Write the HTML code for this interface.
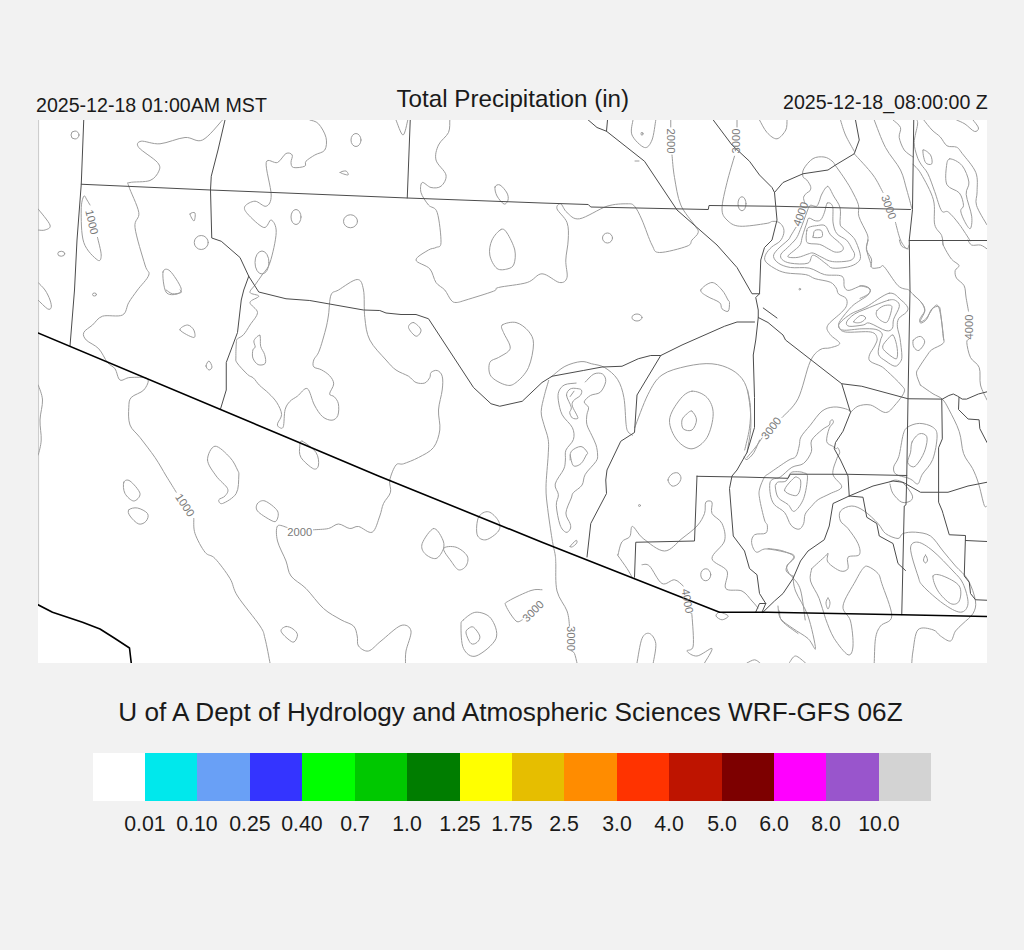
<!DOCTYPE html>
<html><head><meta charset="utf-8">
<style>
html,body{margin:0;padding:0;background:#f2f2f2;width:1024px;height:950px;overflow:hidden;position:relative;font-family:"Liberation Sans",sans-serif;color:#1a1a1a}
.t{position:absolute;white-space:nowrap;line-height:1}
#map{position:absolute;left:38px;top:120px;width:949px;height:543px;background:#fff}
.cb{position:absolute;top:753px;height:48px}
.lb{position:absolute;top:814.2px;font-size:21.3px;width:80px;text-align:center;line-height:1;white-space:nowrap}
svg{position:absolute;left:0;top:0}
</style></head><body>
<div class="t" id="lt" style="left:36px;top:95.5px;font-size:19.6px">2025-12-18 01:00AM MST</div>
<div class="t" id="tt" style="left:396.5px;top:86.7px;font-size:24.2px">Total Precipitation (in)</div>
<div class="t" id="rt" style="left:783px;top:92.5px;font-size:19.6px">2025-12-18_08:00:00 Z</div>
<div id="map"></div>
<div class="t" id="bt" style="left:118.2px;top:699.3px;font-size:26.2px">U of A Dept of Hydrology and Atmospheric Sciences WRF-GFS 06Z</div>
<div class="cb" style="left:93px;width:52px;background:#ffffff"></div>
<div class="cb" style="left:145px;width:52px;background:#00e8ec"></div>
<div class="cb" style="left:197px;width:53px;background:#69a0f6"></div>
<div class="cb" style="left:250px;width:52px;background:#3434ff"></div>
<div class="cb" style="left:302px;width:53px;background:#00ff00"></div>
<div class="cb" style="left:355px;width:52px;background:#00c800"></div>
<div class="cb" style="left:407px;width:53px;background:#007d00"></div>
<div class="cb" style="left:460px;width:52px;background:#ffff00"></div>
<div class="cb" style="left:512px;width:52px;background:#e6be00"></div>
<div class="cb" style="left:564px;width:53px;background:#ff8c00"></div>
<div class="cb" style="left:617px;width:52px;background:#ff3300"></div>
<div class="cb" style="left:669px;width:53px;background:#be1400"></div>
<div class="cb" style="left:722px;width:52px;background:#7d0000"></div>
<div class="cb" style="left:774px;width:52px;background:#ff00ff"></div>
<div class="cb" style="left:826px;width:53px;background:#9955cc"></div>
<div class="cb" style="left:879px;width:52px;background:#d3d3d3"></div>
<div class="lb" style="left:105px">0.01</div>
<div class="lb" style="left:157px">0.10</div>
<div class="lb" style="left:210px">0.25</div>
<div class="lb" style="left:262px">0.40</div>
<div class="lb" style="left:315px">0.7</div>
<div class="lb" style="left:367px">1.0</div>
<div class="lb" style="left:420px">1.25</div>
<div class="lb" style="left:472px">1.75</div>
<div class="lb" style="left:524px">2.5</div>
<div class="lb" style="left:577px">3.0</div>
<div class="lb" style="left:629px">4.0</div>
<div class="lb" style="left:682px">5.0</div>
<div class="lb" style="left:734px">6.0</div>
<div class="lb" style="left:786px">8.0</div>
<div class="lb" style="left:839px">10.0</div>
<!--MAPSVG-->
<svg width="1024" height="950" viewBox="0 0 1024 950">
<defs><clipPath id="mc"><rect x="38" y="120" width="949" height="543"/></clipPath></defs>
<g clip-path="url(#mc)" fill="none" stroke-linejoin="round" stroke-linecap="round">
<line x1="38.5" y1="120" x2="38.5" y2="605" stroke="#cdcdcd" stroke-width="1.2"/>
<g stroke="#9c9c9c" stroke-width="1">
<path d="M222.5,120C219.2,123.3 208.8,137.1 202.5,140C196.2,142.9 192.1,136.9 185,137.5C177.9,138.1 167.3,143.1 160,143.8C152.7,144.4 144.8,140.6 141.2,141.2C137.7,141.9 136,144 138.8,147.5C141.5,151 154.2,158.5 157.5,162.5C160.8,166.5 160,168.2 158.8,171.2C157.5,174.2 154.8,178.6 150,180.5C145.2,182.4 133.5,181.5 130,182.5C126.5,183.5 127.3,181.2 128.8,186.2C130.2,191.2 137.7,205.6 138.8,212.5C139.8,219.4 134,218.8 135,227.5C136,236.2 142.7,257.1 145,265C147.3,272.9 150,270.8 148.8,275C147.5,279.2 140.8,285.4 137.5,290C134.2,294.6 131.2,298.3 128.8,302.5C126.2,306.7 126.9,312.7 122.5,315C118.1,317.3 107.5,314.6 102.5,316.2C97.5,317.9 95.6,322.3 92.5,325C89.4,327.7 84.8,330 83.8,332.5C82.7,335 83.8,337.3 86.2,340C88.8,342.7 95.2,345 98.8,348.8C102.3,352.5 104.8,359.2 107.5,362.5C110.2,365.8 112.9,365.8 115,368.8C117.1,371.7 117.5,378.5 120,380C122.5,381.5 125.4,377.7 130,377.5C134.6,377.3 145.2,376.7 147.5,378.8C149.8,380.8 146.5,386.9 143.8,390C141,393.1 133.8,394.6 131.2,397.5C128.8,400.4 129,402.9 128.8,407.5C128.5,412.1 128.1,420 130,425C131.9,430 135.8,432.1 140,437.5C144.2,442.9 150.6,451.1 155,457.5C159.4,463.9 162.7,470.2 166.2,476C169.8,481.8 174.6,489.5 176.2,492.2"/>
<path d="M193.8,518.5C194,521 193.1,527.9 195,533.5C196.9,539.1 201.7,548.1 205,552.2C208.3,556.4 210.8,554.1 215,558.5C219.2,562.9 226.2,572.2 230,578.5C233.8,584.8 232.5,588.1 237.5,596C242.5,603.9 255.4,618.9 260,626C264.6,633.1 263.3,632.3 265,638.5C266.7,644.7 269.2,658.9 270,663"/>
<path d="M90,205C89.5,204.2 88,201.5 87,200C86,198.5 84.7,194.6 83.8,196.2C82.8,197.9 81.2,202.3 81.2,210C81.2,217.7 81,234.2 83.8,242.5C86.5,250.8 94.6,257.9 97.5,260C100.4,262.1 101.2,258.8 101.2,255C101.2,251.2 98.1,240.4 97.5,237.5"/>
<ellipse cx="75" cy="135" rx="4" ry="4"/>
<path d="M38,208.8C40,211.5 48.8,221.5 50,225C51.2,228.5 47,229.2 45,230C43,230.8 39.2,230 38,230"/>
<ellipse cx="61.25" cy="253.75" rx="3.5" ry="2.5"/>
<path d="M38,282.5C39.2,283.8 43,287.1 45,290C47,292.9 49,297.1 50,300C51,302.9 51.7,306 51.2,307.5C50.8,309 49.7,310 47.5,308.8C45.3,307.5 39.6,301.5 38,300"/>
<path d="M190,214C190.2,212.7 194.3,211.8 195,213C195.7,214.2 194.8,220.8 194,221C193.2,221.2 189.8,215.3 190,214Z"/>
<ellipse cx="201.25" cy="242.5" rx="7" ry="7"/>
<path d="M163,272C163.7,268.5 167,268.3 170,271C173,273.7 179.8,284.2 181,288C182.2,291.8 179.5,293.3 177,294C174.5,294.7 168.3,295.7 166,292C163.7,288.3 162.3,275.5 163,272Z"/>
<ellipse cx="94.5" cy="294.5" rx="2" ry="1.5"/>
<path d="M309.8,120C311.2,120.6 315.8,120.8 318.5,123.8C321.2,126.7 325,133.1 326,137.5C327,141.9 326.6,147.1 324.8,150C322.9,152.9 317.9,153.1 314.8,155C311.6,156.9 307.7,159.4 306,161.2C304.3,163.1 306.8,165.2 304.8,166.2C302.7,167.3 295.8,168.1 293.5,167.5C291.2,166.9 291.2,164.6 291,162.5C290.8,160.4 293.1,156.5 292.2,155C291.4,153.5 288.5,152.2 286,153.5C283.5,154.8 280.8,161 277.5,162.5C274.2,164 267.3,157.1 266.2,162.5C265.2,167.9 271.2,187.7 271.2,195C271.2,202.3 269,205.2 266.2,206.2C263.5,207.3 258.5,201.2 255,201.2C251.5,201.2 246.2,204.2 245,206.2C243.8,208.3 244.4,210.2 247.5,213.8C250.6,217.3 259.8,226.5 263.8,227.5C267.7,228.5 269.2,219.2 271.2,220C273.3,220.8 276.5,225.4 276.2,232.5C276,239.6 272.4,255.4 270,262.5C267.6,269.6 264.5,271.2 262,275C259.5,278.8 257,282.1 255,285C253,287.9 249.4,290.6 250,292.5C250.6,294.4 258.8,294.6 258.8,296.2C258.8,297.9 250.2,299.8 250,302.5C249.8,305.2 257.5,308.8 257.5,312.5C257.5,316.2 252.3,321.3 250,325C247.7,328.7 245.6,332.4 243.5,334.7C241.4,337 238.8,337.6 237.6,338.8C236.4,340 236.7,338.7 236.4,341.7C236.1,344.7 235.8,353.5 235.9,357C236,360.5 235.1,359.9 237,362.8C238.9,365.7 244.9,372 247.6,374.5C250.3,377 251.4,376.2 253.4,378C255.4,379.8 256.8,382.6 259.3,385.1C261.9,387.7 265.8,390.4 268.7,393.3C271.6,396.2 274.8,399.2 276.9,402.7C279,406.2 281.5,410.9 281.6,414.4C281.7,417.9 277.9,421.6 277.5,423.8C277.1,425.9 278.2,426.8 279.2,427.3C280.2,427.8 282.3,429.6 283.3,426.7C284.3,423.8 284,413.9 285.1,409.7C286.2,405.5 287.8,403.8 289.8,401.5C291.9,399.2 294.5,398.3 297.4,396.2C300.3,394.1 304.5,387.1 307.3,388.6C310.1,390.1 311.8,400.3 314.4,405C316.9,409.7 319.7,414.2 322.6,416.7C325.5,419.2 329.5,420.4 332,420.2C334.5,420 336.7,418.2 337.8,415.5C338.9,412.8 339,406.9 338.4,403.8C337.8,400.7 335.8,398.5 334.3,396.8C332.8,395.1 329.7,396 329.6,393.9C329.5,391.8 333.7,386.9 333.7,383.9C333.7,380.9 331.7,378 329.6,375.7C327.6,373.4 324,371.3 321.4,369.8C318.8,368.3 315.1,368.5 313.8,366.9C312.5,365.2 312.9,362.5 313.8,359.9C314.7,357.3 317.2,356.1 319.1,351.1C321.1,346.1 323.9,336 325.5,330C327.1,324 327.6,320.8 328.5,315C329.4,309.2 329.3,299.2 331,295C332.7,290.8 334.1,292.6 338.5,290C342.9,287.4 353.1,279.5 357.2,279.5C361.4,279.5 362.2,283.7 363.5,290C364.8,296.3 363.7,309.2 364.8,317.5C365.8,325.8 366.2,332.9 369.8,340C373.3,347.1 381.6,355 386,360C390.4,365 392.2,367.3 396,370C399.8,372.7 405.2,374.2 408.5,376.2C411.8,378.3 413.3,381.4 416,382.5C418.7,383.6 422.5,383.8 424.8,383C427,382.2 428.7,379.2 429.8,377.5C430.8,375.8 429.8,373.7 431,372.5C432.2,371.3 435.4,369.9 437.2,370.5C439.1,371.1 441.4,373 442.2,376.2C443.1,379.5 442.9,384.4 442.2,390C441.6,395.6 438.9,403.3 438.5,410C438.1,416.7 440.6,423.8 439.8,430C438.9,436.2 437,442.9 433.5,447.5C430,452.1 423.5,454.8 418.5,457.5C413.5,460.2 407.2,462.5 403.5,463.8C399.8,465 398.3,462.3 396,465C393.7,467.7 390.7,475.5 389.8,480C388.8,484.5 391.5,488.3 390.5,492.2C389.5,496.2 385.3,499.5 383.5,503.5C381.7,507.5 381.6,511.2 379.8,516C377.9,520.8 375.8,530.5 372.2,532.2C368.7,534 362.2,527.1 358.5,526.5C354.8,525.9 353.1,528.9 349.8,528.5C346.4,528.1 342,524 338.5,524C335,524 332.7,527.5 328.5,528.5C324.3,529.5 316,529.5 313.5,529.8"/>
<path d="M259.9,335.3C261,336.3 259.9,343.2 260.7,346.4C261.5,349.6 263.9,351.8 264.6,354.6C265.4,357.4 266.3,361.7 265.2,363.4C264.1,365.1 260.2,365.5 258.1,364.6C256.1,363.7 253.8,360.6 252.9,358.1C252,355.7 252.5,351.8 252.9,349.9C253.3,348 255,348.6 255.2,347C255.4,345.4 253.2,342.4 254,340.5C254.8,338.6 258.8,334.3 259.9,335.3Z"/>
<path d="M180,330C179,327.9 185.2,325 187.5,325C189.8,325 192.7,327.9 193.8,330C194.8,332.1 196,337.5 193.8,337.5C191.5,337.5 181,332.1 180,330Z"/>
<path d="M206,366C206,364.5 208,360.8 209,361C210,361.2 212,365.5 212,367C212,368.5 210,370.2 209,370C208,369.8 206,367.5 206,366Z"/>
<path d="M38.2,385C39,387.5 42.2,394.2 42.5,400C42.8,405.8 40.2,413.3 40,420C39.8,426.7 41.5,434.2 41.2,440C41,445.8 38.8,452.5 38.2,455"/>
<path d="M207.5,460C207.3,455 211.2,446.7 215,446.2C218.8,445.8 226.2,453.5 230,457.5C233.8,461.5 236,466.9 237.5,470C239,473.1 239,472.1 238.8,476C238.5,479.9 239,488.9 236.2,493.5C233.5,498.1 225.4,502.5 222.5,503.5C219.6,504.5 218.3,501 218.8,499.8C219.2,498.5 223.5,497.9 225,496C226.5,494.1 229,491.8 227.5,488.5C226,485.2 219.6,480.8 216.2,476C212.9,471.2 207.7,465 207.5,460Z"/>
<path d="M166.2,290C167.3,290.6 170,293.3 172.5,293.8C175,294.2 180,293.1 181.2,292.5C182.5,291.9 180.2,290.4 180,290"/>
<ellipse cx="262" cy="262.5" rx="7" ry="11.5"/>
<ellipse cx="356" cy="140" rx="5" ry="6.5"/>
<path d="M340,172.5C339.7,171.8 344.7,170.6 346,171C347.3,171.4 349,174.8 348,175C347,175.2 340.3,173.2 340,172.5Z"/>
<path d="M396,120C397.2,122.5 401,135 403,135C405,135 407,122.5 407.8,120"/>
<path d="M449.8,120C449.5,122.1 450.4,128.3 448.5,132.5C446.6,136.7 440.6,140.4 438.5,145C436.4,149.6 434.8,155 436,160C437.2,165 445.2,170.6 446,175C446.8,179.4 443.5,184.2 441,186.2C438.5,188.3 434.1,188.1 431,187.5C427.9,186.9 423.9,181.7 422.2,182.5C420.6,183.3 420,188.8 421,192.5C422,196.2 425.8,201.7 428.5,205C431.2,208.3 435.2,206.2 437.2,212.5C439.3,218.8 441.2,236.7 441,242.5C440.8,248.3 438.1,246.2 436,247.5C433.9,248.8 431.8,247.9 428.5,250C425.2,252.1 415.8,256.9 416,260C416.2,263.1 426.4,265 429.8,268.8C433.1,272.5 433.5,279 436,282.5C438.5,286 442.2,287.1 444.8,290C447.2,292.9 449.1,297.9 451,300C452.9,302.1 453.5,302.5 456,302.5C458.5,302.5 459.8,301.9 466,300C472.2,298.1 488.1,293.3 493.5,291.2C498.9,289.2 492.9,289 498.5,287.5C504.1,286 520,284.8 527.2,282.5C534.5,280.2 536.6,273.8 542,273.8C547.4,273.8 555.3,281.9 559.5,282.5C563.7,283.1 566,281.2 567,277.5C568,273.8 565.5,266.2 565.8,260C566,253.8 568,246.2 568.2,240C568.5,233.8 568.9,227.7 567,222.5C565.1,217.3 558,211.9 557,208.8C556,205.6 559.1,203.1 560.8,203.8C562.4,204.4 563.9,210 567,212.5C570.1,215 572.8,219.8 579.5,218.8C586.2,217.7 599.1,208.8 607,206.2C614.9,203.8 622.4,203.8 627,203.8C631.6,203.8 632,203.5 634.5,206.2C637,209 639.1,213.5 642,220C644.9,226.5 649.1,239.6 652,245C654.9,250.4 653.7,252.3 659.5,252.5C665.3,252.7 681.6,248.3 687,246.2C692.4,244.2 690.1,242.3 692,240C693.9,237.7 697.8,235 698.2,232.5C698.7,230 697.4,229.6 694.5,225C691.6,220.4 684.1,212.9 680.8,205C677.4,197.1 676,185.8 674.5,177.5C673,169.2 672.4,158.8 672,155"/>
<polyline points="670.75,120 670.75,127"/>
<ellipse cx="296" cy="217" rx="5" ry="7.5"/>
<ellipse cx="350.5" cy="221.25" rx="7" ry="6.5"/>
<path d="M495,187C495.5,185.2 498,184 500,185C502,186 505.7,190.5 507,193C508.3,195.5 508.5,198.2 508,200C507.5,201.8 505.8,204.7 504,204C502.2,203.3 498.5,198.8 497,196C495.5,193.2 494.5,188.8 495,187Z"/>
<path d="M501,229.5C503.5,228.3 504.7,229.6 507,233C509.3,236.4 513.6,244.8 514.8,250C515.9,255.2 515.1,260.9 514,264C512.9,267.1 510.8,268 508,268.8C505.2,269.5 500,270.8 497,268.5C494,266.2 490.6,259.8 489.8,255C488.9,250.2 490.1,244.2 492,240C493.9,235.8 498.5,230.7 501,229.5Z"/>
<path d="M302.2,441.2C305,442.3 313.3,448.5 316,452.5C318.7,456.5 318.9,462.3 318.5,465C318.1,467.7 316.4,470 313.5,468.8C310.6,467.5 303.3,461.2 301,457.5C298.7,453.8 299.5,449 299.8,446.2C300,443.5 299.5,440.2 302.2,441.2Z"/>
<path d="M502.2,325C504.3,323.3 511.6,321.5 516,322.5C520.4,323.5 525.6,327.7 528.5,331.2C531.4,334.8 533.5,337.7 533.5,343.8C533.5,349.8 531.4,361 528.5,367.5C525.6,374 519.8,379.6 516,382.5C512.2,385.4 510.2,386 506,385C501.8,384 493.7,380 491,376.2C488.3,372.5 488.5,365.6 489.8,362.5C491,359.4 495.4,359.4 498.5,357.5C501.6,355.6 506.6,353.3 508.5,351.2C510.4,349.2 510.6,348.1 509.8,345C508.9,341.9 504.8,335.8 503.5,332.5C502.2,329.2 500.2,326.7 502.2,325Z"/>
<path d="M413.5,322.5C415.6,322.9 420.6,327.7 421,330C421.4,332.3 418.1,336.7 416,336.2C413.9,335.8 408.9,329.8 408.5,327.5C408.1,325.2 411.4,322.1 413.5,322.5Z"/>
<path d="M287,527.5C285.4,527.2 279.1,523.8 277.5,526C275.9,528.2 276.1,535.2 277.5,541C278.9,546.8 283.8,555.2 286,561C288.2,566.8 287.7,571.4 291,576C294.3,580.6 300.6,583.1 306,588.5C311.4,593.9 317.7,603.3 323.5,608.5C329.3,613.7 336,616.8 341,619.8C346,622.7 350.8,623.3 353.5,626C356.2,628.7 356.4,632.7 357.2,636C358.1,639.3 356.6,643.5 358.5,646C360.4,648.5 364.8,651.8 368.5,651C372.2,650.2 375.6,645.2 381,641C386.4,636.8 396,627.2 401,625.5C406,623.8 410.2,626.8 411,631C411.8,635.2 406.9,645.7 406,651C405.1,656.3 405.6,661 405.5,663"/>
<path d="M734.5,156.2C733.2,160.6 729.1,173.8 727,182.5C724.9,191.2 722,202.5 722,208.8C722,215 724.1,217.1 727,220C729.9,222.9 733,225.7 739.5,226.2C746,226.8 760.5,224.3 766,223.5C771.5,222.7 770.2,221.6 772.4,221.4C774.5,221.2 777.1,221.4 778.9,222.4C780.7,223.4 782.4,225.4 783.2,227.3C784,229.2 784.2,231.4 783.7,233.7C783.2,236 782,239 780,241.2C778,243.4 774.1,244.8 771.7,247C769.4,249.2 767,251.8 765.9,254.1C764.8,256.4 763.9,258.8 765.3,261.1C766.7,263.4 770.7,266.2 774.1,268.1C777.5,270.1 780.5,271.7 785.8,272.8C791.1,273.9 800.8,273.6 805.7,274.6C810.6,275.6 811,277.4 815.1,278.7C819.2,280 826.8,280.6 830.3,282.2C833.8,283.8 834.8,286.1 836.2,288C837.6,289.9 836.9,292.2 838.5,293.9C840.1,295.6 844.6,296.4 846,298.3C847.4,300.2 847.4,303 846.7,305.3C846,307.6 844.8,308.9 841.6,312.3C838.4,315.7 829.5,321.9 827.6,325.6C825.7,329.3 828.2,331.5 830.2,334.5C832.2,337.5 839.7,341.2 839.7,343.4C839.7,345.6 833.5,346.8 830.2,347.8C826.9,348.9 823.4,347.3 820,349.7C816.6,352.1 813.7,353.8 810,362C806.3,370.2 802.7,389.5 798,398.8C793.3,408 784.7,414.4 782,417.5"/>
<polyline points="737,120 737,127"/>
<ellipse cx="742" cy="203.75" rx="4" ry="7"/>
<path d="M633,120C632.8,122.5 630.1,130.4 632,135C633.9,139.6 641.2,146.7 644.5,147.5C647.8,148.3 650.1,144.6 652,140C653.9,135.4 655.1,123.3 655.8,120"/>
<ellipse cx="642" cy="133.75" rx="1" ry="1.5"/>
<ellipse cx="607.5" cy="238" rx="5" ry="5"/>
<path d="M759.5,120C760.8,122.1 764.1,129.4 767,132.5C769.9,135.6 773.9,139.2 777,138.8C780.1,138.3 784.1,133.1 785.8,130C787.4,126.9 786.8,121.7 787,120"/>
<path d="M700.8,290C699.9,292.3 703.9,294.2 707,296.2C710.1,298.3 717,300.4 719.5,302.5C722,304.6 720.5,307.3 722,308.8C723.5,310.2 727,312.3 728.2,311.2C729.5,310.2 729.5,304.4 729.5,302.5C729.5,300.6 729.2,302.1 728,300C726.8,297.9 724.7,292.9 722,290C719.3,287.1 715.5,282.5 712,282.5C708.5,282.5 701.6,287.7 700.8,290Z"/>
<ellipse cx="637" cy="317.5" rx="5" ry="3.5"/>
<path d="M840.5,120C841.3,122.5 843.2,129.8 845.5,135C847.8,140.2 852.8,148.5 854.2,151.2"/>
<path d="M854.2,153.8C857.4,157.3 868.2,168.5 873,175C877.8,181.5 881.3,189.6 883,192.5"/>
<path d="M895.5,222.5C896.3,225.4 898.6,235.6 900.5,240C902.4,244.4 905.3,247.9 906.8,248.8C908.2,249.6 908.6,245.6 909,245"/>
<path d="M874.2,120C876.1,124.6 881.1,139.2 885.5,147.5C889.9,155.8 897,162.9 900.5,170C904,177.1 904.8,183.5 906.8,190C908.7,196.5 911.1,205.8 912,209"/>
<path d="M893,120C894.2,121.2 899.5,124.6 900.5,127.5C901.5,130.4 898.6,133.8 899.2,137.5C899.9,141.2 902,146.8 904.2,150C906.5,153.2 911.5,155.8 913,157"/>
<path d="M917,120C917.1,120.8 918,121.3 917.5,125C917,128.7 914.3,137.2 914.2,142.4C914.1,147.6 915.9,152.4 917,156C918.1,159.6 919.2,161.3 921,164.2C922.8,167.2 925.6,169.2 927.9,173.8C930.2,178.4 932.4,185.4 934.7,191.6C937,197.8 939.3,207.4 941.6,210.8C943.9,214.2 945.4,209.8 948.4,212.1C951.4,214.4 955.8,219.7 959.4,224.5C963,229.3 968.5,238.2 970.3,240.9"/>
<path d="M912.8,164.2C914.2,165.8 917.6,167.9 921,173.8C924.4,179.7 931.1,191.4 933.4,199.8C935.7,208.2 933.3,218.6 934.7,224.5C936.1,230.4 940.2,232 941.6,235.4C943,238.8 942.8,243.4 943,245"/>
<path d="M923.8,120C925.2,121.7 929.3,127.2 932,130C934.7,132.8 937.7,134.3 940.2,136.9C942.7,139.5 944.3,144.1 947,145.8C949.7,147.5 954.1,145.9 956.6,147.2C959.1,148.4 958.9,149.1 962.1,153.3C965.3,157.5 973.3,166.1 975.8,172.5C978.3,178.9 977,186.1 977.1,191.6C977.2,197.1 974.9,199.8 976.5,205.3C978.1,210.8 985,221.3 986.7,224.5"/>
<path d="M923,150C923.8,148.8 929,152.7 930.5,155C932,157.3 932.6,162.5 931.8,163.8C930.9,165 927,164.8 925.5,162.5C924,160.2 922.2,151.2 923,150Z"/>
<path d="M949.8,158.8C952.4,158.6 958.9,161.7 962.1,165.6C965.3,169.5 968.2,177.2 968.9,182C969.6,186.8 965.7,188.7 966.2,194.4C966.7,200.1 971,210.5 971.7,216.2C972.4,221.9 971.4,227.7 970.3,228.6C969.1,229.5 966.4,224.7 964.8,221.7C963.2,218.7 960.9,213.5 960.7,210.8C960.5,208.1 963.7,208.3 963.5,205.3C963.3,202.3 962.1,196.4 959.4,193C956.6,189.6 949.2,189.1 947,184.8C944.8,180.5 945.9,171.3 946.4,167C946.9,162.7 947.2,159 949.8,158.8Z"/>
<path d="M956.6,120C958,120.7 962,122.1 965,124C968,125.9 972.1,130.7 974.4,131.4C976.6,132.1 978.7,129.9 978.5,128C978.3,126.1 973.9,121.3 973,120"/>
<path d="M813.3,235.9C813.5,234.7 813.5,231.4 814.9,230.5C816.2,229.6 820.2,229.4 821.3,230.5C822.5,231.6 823.2,235.8 821.9,236.9C820.5,238.1 814.7,237.6 813.3,237.5C811.8,237.3 813,237 813.3,235.9Z"/>
<path d="M806.8,230.5C807.3,228.3 807.4,228.1 809,227.3C810.6,226.5 813.8,225.9 816.5,225.7C819.2,225.4 822.8,224.1 825.1,225.7C827.4,227.2 828.1,232 830.5,234.8C832.8,237.6 836.9,240.2 839,242.3C841.2,244.5 843,246.2 843.3,247.7C843.7,249.2 842.6,250.7 841.2,251.4C839.8,252.2 836.9,252.4 834.8,252C832.6,251.5 830.8,250 828.3,248.8C825.8,247.5 822.9,245.3 819.7,244.4C816.5,243.6 811.2,244.1 809,243.4C806.7,242.7 806.6,242.3 806.3,240.2C805.9,238 806.4,232.6 806.8,230.5Z"/>
<path d="M827.2,203.1C828.6,202.1 831.6,203 832.6,206.3C833.6,209.6 832.4,218.4 833.1,223C833.9,227.5 834.7,230.8 836.9,233.7C839.1,236.6 844.1,237.7 846.6,240.2C849.1,242.7 850.6,246.2 851.9,248.8C853.3,251.3 855,253.2 854.6,255.2C854.3,257.2 853.5,259.5 849.8,260.6C846.1,261.6 837.3,262.2 832.6,261.6C827.9,261.1 825.1,258.8 821.9,257.3C818.6,255.9 815.6,253.6 813.3,253.1C810.9,252.5 810.4,253.4 807.9,254.1C805.4,254.8 801.4,256.8 798.2,257.3C795.1,257.9 790.7,257.7 789.1,257.3C787.5,257 787.6,256.5 788.6,255.2C789.5,253.9 793,251.6 795,249.8C797,248 799.1,246.8 800.4,244.4C801.6,242.1 801.4,239.4 802.5,235.9C803.6,232.3 805.7,225.9 806.8,223C807.9,220 807.5,218.5 809,218.1C810.4,217.8 813.4,220.6 815.4,220.8C817.4,221.1 819.3,221.2 820.8,219.8C822.3,218.3 823.5,215 824.5,212.2C825.6,209.5 825.9,204.1 827.2,203.1Z"/>
<path d="M827.8,186.4C829.7,186.8 831.6,192.5 833.7,196.1C835.7,199.7 839,203.3 840.1,207.9C841.2,212.6 839.6,220.6 840.1,224C840.7,227.4 841.4,226.4 843.3,228.3C845.3,230.3 849.8,233.5 851.9,235.9C854.1,238.2 854.8,238.9 856.2,242.3C857.7,245.7 860.4,252.9 860.5,256.3C860.7,259.7 859.5,260.9 857.3,262.7C855.2,264.5 851.8,266.1 847.6,267C843.5,267.9 836.2,268.6 832.6,268.1C829,267.6 829.4,265.9 826.2,263.8C822.9,261.6 816.3,255.3 813.3,255.2C810.2,255.1 811.6,261.9 807.9,263.2C804.1,264.6 795,263.9 790.7,263.2C786.4,262.6 783.7,261 782.1,259.5C780.5,258 780.1,256.1 781,254.1C781.9,252.2 785,250.3 787.5,247.7C790,245.1 793.9,241.6 796.1,238.6C798.2,235.5 798.6,233.8 800.4,229.4C802.2,225 805.4,216 806.8,212.2C808.3,208.5 808.3,208 809,206.9C809.7,205.7 809.9,205.3 811.1,205.2C812.4,205.2 815.1,206.9 816.5,206.3C817.8,205.7 818.3,203.5 819.2,201.5C820.1,199.4 820.4,196.5 821.9,194C823.3,191.5 825.8,186.1 827.8,186.4Z"/>
<path d="M804.7,202.6C804.5,201.7 803.2,198.8 803.6,197.2C804,195.6 805.7,194 806.8,192.9C807.9,191.8 809.4,191.8 810,190.7C810.6,189.6 811.1,188.2 810.6,186.4C810.1,184.6 808.1,181.6 806.8,180C805.5,178.4 803.5,178.5 803,176.6C802.5,174.7 802.1,171.8 803.8,168.8C805.4,165.8 809.6,160.6 813,158.6C816.4,156.6 820.8,156.6 824,157C827.2,157.4 829.9,159.3 832,161C834.1,162.7 834.4,164 836.6,167.2C838.9,170.4 843,176.1 845.5,180C848,183.9 849.8,186.6 851.9,190.7C854,194.8 857.2,200.4 858.4,204.7C859.6,209 857.5,211.7 858.9,216.5C860.3,221.3 865.5,229.8 867,233.7C868.5,237.6 867.9,237.4 867.8,240C867.7,242.6 866.1,245.5 866.6,249.4C867.1,253.3 869.7,260.3 870.7,263.4C871.7,266.5 871,267.4 872.5,268.1C874,268.8 878.1,267.7 880,267.5C881.9,267.3 881.1,263.7 884.1,266.7C887.1,269.7 894.1,281.9 898.1,285.7C902.1,289.5 906.5,288.9 908.2,289.5"/>
<path d="M796,227.3C795.1,228.7 792,233.8 790.7,235.9C789.4,238 790.3,237.8 788.1,240C785.9,242.2 780,246.7 777.6,249.4C775.2,252.1 773.3,254.1 773.5,256.4C773.7,258.7 775.9,261.5 778.8,263.4C781.6,265.2 785.4,266.7 790.5,267.5C795.6,268.3 803.5,266.9 809.2,268.1C814.9,269.3 819,273.2 824.5,274.6C830,276 838.7,274.2 842,276.3C845.3,278.4 843.2,284.5 844.4,286.9C845.6,289.2 846.2,290.6 849.1,290.4C852,290.2 858.5,285.9 862,285.7C865.5,285.5 869.2,287.6 870.2,289.2C871.2,290.8 869.4,293.3 867.8,295.1C866.2,296.9 863.5,298.1 860.8,300C858.1,301.9 855.1,303.2 851.7,306.6C848.3,310 842.4,317.1 840.3,320.5C838.2,323.9 838.1,325 839,326.9C839.9,328.8 840.1,331.1 845.4,332C850.7,332.9 865.5,330.9 870.8,332C876.1,333.1 876.5,336 877.1,338.3C877.7,340.6 875.9,343.2 874.6,346C873.3,348.8 870.2,352.3 869.5,354.8C868.8,357.3 868.2,359.3 870.1,361.2C872,363.1 878,364.6 880.9,366.2C883.8,367.9 883.9,368.2 887.3,371.3C890.7,374.4 898.4,381.6 901.2,385C904.1,388.4 905.3,388.7 904.2,392C903.2,395.3 898.1,401.6 895,405C891.9,408.4 889.6,412.5 885.5,412.5C881.4,412.5 875.1,406 870.5,405C865.9,404 861.3,405 858,406.2C854.7,407.5 851.8,411.5 850.5,412.5"/>
<path d="M899.4,240C899.8,241.1 900.4,244.9 901.9,246.3C903.4,247.8 907.2,248.5 908.2,248.9"/>
<path d="M868.2,240C867.9,241.6 865.8,246.3 866.4,249.5C866.9,252.7 870.7,256.2 871.4,259C872.2,261.9 870.9,265.4 870.8,266.7"/>
<path d="M913.3,294.6C914.8,296.1 920.3,300.7 922.2,303.5C924.1,306.2 925.1,308.1 924.8,311.1C924.4,314.1 920.1,320 920.3,321.2C920.5,322.5 923.8,321 926,318.7C928.2,316.4 931.6,309.4 933.6,307.3C935.6,305.2 936.8,304.1 938.1,306C939.4,307.9 940.3,313 941.2,318.7C942.2,324.4 943.4,336.5 943.8,340"/>
<path d="M942.5,240C942.7,241.1 942.3,243.2 943.8,246.3C945.3,249.5 948.9,255.9 951.4,259C953.9,262.2 958.4,263.5 959,265.4C959.7,267.3 955.6,268.4 955.2,270.5C954.8,272.6 955,275.6 956.5,278.1C958,280.6 962.5,282.5 964.1,285.7C965.7,288.9 965.3,292.9 966,297.1C966.7,301.4 968.1,308.8 968.5,311.1"/>
<path d="M967.9,240C968.5,240.8 969.6,244.2 971.7,245.1C973.8,245.9 978.1,244.4 980.6,245.1C983.1,245.7 985.9,248.3 987,248.9"/>
<path d="M860,285.7C861.3,286 865.9,286.8 867.6,287.6C869.3,288.5 870.2,289.6 870.2,290.8C870.2,291.9 869.3,293.3 867.6,294.6C865.9,295.9 861.3,297.8 860,298.4"/>
<path d="M889.2,293.2C895.1,292.1 898.2,297.9 901.2,300.2C904.3,302.6 906.8,305.2 907.6,307.2C908.4,309.2 907.8,310.4 906.3,312.3C904.8,314.2 900.2,316.2 898.7,318.6C897.2,321.1 897.2,323.6 897.4,326.9C897.7,330.2 899.2,333.5 900,338.3C900.7,343.2 901.9,352.1 901.9,356.1C901.9,360.1 901.1,360.7 900,362.4C898.8,364.1 897.2,366.5 894.9,366.2C892.6,366 888.8,363.2 886,361.2C883.3,359.2 879.4,357.6 878.4,354.2C877.4,350.8 879.7,344.2 880.3,340.9C880.9,337.5 883,335.8 882.2,333.9C881.5,332 879.2,330.3 875.9,329.4C872.5,328.6 867.4,328.7 861.9,328.8C856.4,328.9 846.7,330.8 842.9,330.1C839,329.3 837.8,327 839,324.4C840.3,321.7 846,317.1 850.5,314.2C854.9,311.3 859.2,310.7 865.7,307.2C872.2,303.7 883.3,294.4 889.2,293.2Z"/>
<path d="M888.5,300.2C893.4,299 894.4,299.8 896.2,300.9C898,301.9 899.8,303.5 899.3,306.6C898.9,309.6 894.8,315.7 893.6,319.3C892.5,322.9 893.6,326.3 892.4,328.2C891.1,330.1 889.8,331.5 886,330.7C882.2,329.9 873.3,324 869.5,323.1C865.7,322.1 866.5,324.5 863.2,325C859.8,325.5 852,326.8 849.2,326.3C846.5,325.7 845.8,323.8 846.7,321.8C847.5,319.8 850.9,316.4 854.3,314.2C857.7,312 861.3,310.8 867,308.5C872.7,306.2 883.7,301.5 888.5,300.2Z"/>
<path d="M893,335.1C894.6,336.2 896.1,342.4 896.8,345.9C897.5,349.4 897.8,354 897.4,356.1C897.1,358.2 897,359.5 894.9,358.6C892.8,357.8 886.8,353.1 884.8,351C882.7,348.9 882.4,347.8 882.8,345.9C883.3,344 885.6,341.4 887.3,339.6C889,337.8 891.4,334.1 893,335.1Z"/>
<path d="M877.1,310.4C878.3,308.8 881.3,306.8 883.5,305.9C885.7,305.1 889.1,304.8 890.5,305.3C891.8,305.8 892.3,306.4 891.7,309.1C891.2,311.9 889.1,319.9 887.3,321.8C885.5,323.7 882.7,321.6 880.9,320.6C879.1,319.5 877.1,317.2 876.5,315.5C875.9,313.8 876,312 877.1,310.4Z"/>
<path d="M853.6,321.8C853.6,320.7 858.6,316.1 860.6,315.5C862.6,314.8 865.7,316.8 865.7,318C865.7,319.2 862.6,321.8 860.6,322.4C858.6,323.1 853.6,323 853.6,321.8Z"/>
<path d="M913.3,340.2C914.4,338.4 918.4,336.1 920.3,336.4C922.2,336.7 925,339.8 924.7,342.1C924.5,344.5 920.8,349.5 919,350.4C917.2,351.2 914.9,348.9 913.9,347.2C913,345.5 912.3,342 913.3,340.2Z"/>
<path d="M908.9,290.1C909.7,290.9 911.8,293 913.9,295.2C916.1,297.3 919.8,300.2 921.6,302.8C923.4,305.3 924.7,308.2 924.7,310.4C924.7,312.6 922.4,314.5 921.6,316.1C920.7,317.7 919.8,318.7 919.7,319.9C919.6,321.1 919.8,323.2 920.9,323.1C922.1,323 924.8,321.6 926.6,319.3C928.4,317 929.7,311.2 931.7,309.1C933.7,307 937.2,305.9 938.7,306.6C940.2,307.2 939.9,308.1 940.6,312.9C941.3,317.8 942.7,330.7 943.1,335.8C943.6,340.9 945,341.1 943.1,343.4C941.2,345.7 934.5,347.6 931.7,349.8C929,351.9 928.8,353.1 926.6,356.1C924.5,359.1 920.7,364.6 919,367.5C917.3,370.5 916.3,370.9 916.5,373.9C916.7,376.8 919.7,383.2 920.3,385"/>
<path d="M969.2,339C968.8,339.6 966.5,339.4 966.8,342.5C967,345.6 968.4,353.3 970.5,357.5C972.6,361.7 977.6,362.9 979.2,367.5C980.9,372.1 979.2,379.6 980.5,385C981.8,390.4 985.9,397.5 987,400"/>
<path d="M550.9,377.2C553.2,375.4 559.9,369 564.9,366.4C569.9,363.8 576.5,362 581,361.6C585.5,361.2 587.8,362.8 591.7,363.8C595.6,364.8 600.3,364.9 604.6,367.5C608.9,370.1 614.3,374.3 617.5,379.3C620.7,384.3 622.5,390.1 623.9,397.6C625.3,405.1 625.4,418.8 626.1,424.5C626.8,430.2 627.1,430.2 628.2,432C629.3,433.8 631.8,434.7 632.5,435.2"/>
<path d="M548.7,380.4C548,382.9 545.6,390.2 544.4,395.4C543.1,400.6 541.3,406.8 541.2,411.6C541.1,416.5 542.7,419.9 543.9,424.5C545.1,429.1 547.5,434.4 548.2,439.5C548.9,444.6 548.6,447.1 548.2,455C547.8,462.9 546.1,478.2 546,487.2C545.9,496.1 546.7,500.1 547.7,508.7C548.7,517.3 550.8,531.1 552,538.8C553.2,546.5 554.6,550.9 555.2,555C555.8,559.1 555.5,557.5 555.8,563.5C556,569.5 555.1,583.1 557,591C558.9,598.9 564.9,605.2 567,611C569.1,616.8 569.1,623.5 569.5,626"/>
<path d="M571.5,651C572,651.4 573.6,651.5 574.5,653.5C575.4,655.5 576.6,661.4 577,663"/>
<path d="M576.1,383.1C574.2,383.4 567.8,383.4 564.9,384.7C562,386 560,388.5 558.9,391.2C557.8,393.9 557.8,396.9 558.4,400.8C559,404.7 559.9,410.3 562.2,414.8C564.5,419.3 570.5,423.6 572.4,427.7C574.3,431.8 574.5,435.8 573.4,439.5C572.3,443.2 567.2,446.8 565.9,450.2C564.6,453.6 565.8,456.9 565.4,460C565,463.1 565.5,465 563.8,469C562.1,473 556.1,479.7 555.2,484C554.3,488.3 558.2,491.1 558.4,494.7C558.6,498.3 556,500.5 556.3,505.5C556.6,510.5 558.4,520.3 560,524.8C561.6,529.3 564.2,531.6 565.9,532.3C567.6,533 569.5,530.5 570.2,529.1C570.9,527.7 570.9,526.4 570.2,523.8C569.5,521.1 565.7,517.3 565.9,513C566.1,508.7 570,501.4 571.3,498C572.5,494.6 571.6,494.8 573.4,492.6C575.2,490.5 580,488.2 582,485.1C584,482.1 583,478.2 585.3,474.3C587.6,470.4 594,464.6 596,461.4C598,458.2 597.6,457.8 597.6,455C597.6,452.2 597,448.2 596,444.9C595,441.6 593.2,438.6 591.7,435.2C590.2,431.8 587.7,427.9 586.9,424.5C586.1,421.1 586.6,417.7 586.9,414.8C587.2,411.9 589,409.5 588.5,407.3C588,405.1 583.9,403.9 584.2,401.9C584.6,399.9 587.9,397 590.6,395.4C593.3,393.8 597.8,394.5 600.3,392.2C602.8,389.9 605.3,384.5 605.7,381.5C606.1,378.5 604.5,375.2 602.5,374C600.5,372.8 596.8,372.7 593.9,374C591,375.3 586.7,380.7 585.3,382"/>
<path d="M566.5,395.4C566.3,392.3 568.5,390.1 570.2,389C571.9,387.9 574.8,388.3 576.7,388.5C578.6,388.7 580.9,389 581.5,390.1C582.1,391.2 581.8,393.6 580.4,395.4C579,397.2 574.7,399 573.4,400.8C572.1,402.6 571.8,403.9 572.4,406.2C573,408.5 575.8,412.8 576.7,414.8C577.6,416.9 578.4,418 577.7,418.5C577,419 573.7,419 572.4,418C571.1,417 569.9,414.4 569.7,412.6C569.5,410.8 571.8,410.2 571.3,407.3C570.8,404.4 566.7,398.4 566.5,395.4Z"/>
<polyline points="570.2,396.5 574,391.2"/>
<path d="M570.2,460C570.4,458.6 569.5,453.6 571.3,451.3C573.1,449.1 578.3,446.3 581,446.5C583.7,446.7 586.5,451 587.4,452.4C588.3,453.8 587.4,453.1 586.3,455C585.2,456.9 583.1,461.8 581,463.6C578.9,465.4 575.2,467.1 573.4,465.7C571.6,464.3 570.7,456.8 570.2,455"/>
<path d="M570.2,546.3C570.8,545.2 575,540.9 576.1,540.4C577.2,539.9 577.3,542 576.7,543.1C576.1,544.2 573.5,546.3 572.4,546.8C571.3,547.3 569.6,547.4 570.2,546.3Z"/>
<ellipse cx="639.5" cy="505.5" rx="1" ry="1"/>
<path d="M634.7,427.7C636.9,422.1 643.5,403.2 648,394.4C652.5,385.6 655.5,379.7 662,375C668.5,370.3 678.7,368.1 687,366.2C695.3,364.4 704.5,363.1 712,363.8C719.5,364.4 726.6,366.9 732,370C737.4,373.1 741.6,377.1 744.5,382.5C747.4,387.9 748.5,395 749.5,402.5C750.5,410 751.2,419.2 750.8,427.5C750.3,435.8 747.6,448.3 747,452.5"/>
<path d="M692,391.2C696.6,390.8 703.5,393.8 707,397.5C710.5,401.2 713.2,407.1 713.2,413.8C713.2,420.4 710.5,431.7 707,437.5C703.5,443.3 697,448.3 692,448.8C687,449.2 680.8,444.8 677,440C673.2,435.2 669.1,426.7 669.5,420C669.9,413.3 675.8,404.8 679.5,400C683.2,395.2 687.4,391.7 692,391.2Z"/>
<path d="M692,411.2C693.6,412.3 696.5,416.9 696.5,420C696.5,423.1 694.2,428.5 692,430C689.8,431.5 684.9,430.4 683.2,428.8C681.6,427.1 681.4,422.5 682,420C682.6,417.5 685.3,415.2 687,413.8C688.7,412.3 690.4,410.2 692,411.2Z"/>
<path d="M762,438C760.8,439.7 757.5,444.8 755,448C752.5,451.2 748.3,455.9 747,457.5"/>
<path d="M668,480C668,478 670.3,475.2 672,474C673.7,472.8 676.5,472.3 678,473C679.5,473.7 681,476.2 681,478C681,479.8 679.5,482.7 678,484C676.5,485.3 673.7,486.7 672,486C670.3,485.3 668,482 668,480Z"/>
<path d="M907.7,427.1C910.4,425.2 915.3,423.4 919.5,423.4C923.7,423.4 929.8,425 932.7,427.1C935.6,429.2 937.1,430.6 937.1,436C937.1,441.4 935.2,453.1 932.7,459.5C930.2,465.9 924.9,470.2 922.4,474.2C919.9,478.3 919.7,482.8 918,483.8C916.3,484.8 913.8,481.1 912.1,480.1C910.4,479.1 910.4,478.9 907.7,477.9C905,476.9 898.2,476.1 895.9,474.2C893.6,472.4 893.2,469.8 893.7,466.9C894.2,464 897.2,462 898.8,456.6C900.4,451.2 901.8,439.4 903.2,434.5C904.7,429.6 905,429 907.7,427.1Z"/>
<path d="M912.1,441.9C913.6,438.8 917,434.6 919.5,433.8C922,432.9 925.8,434.1 926.8,436.7C927.8,439.3 926.5,445.1 925.3,449.2C924.1,453.2 921.5,458.1 919.5,461C917.5,463.9 915.6,466.6 913.6,466.9C911.6,467.1 908.2,464.9 907.7,462.5C907.2,460.1 909.9,455.6 910.6,452.2C911.3,448.8 910.6,445 912.1,441.9Z"/>
<path d="M890,481.6C891,481.4 893.7,479.9 895.9,480.1C898.1,480.4 900.5,480.6 903.2,483.1C906,485.6 910.9,491.9 912.1,494.9C913.3,497.8 912.3,499.6 910.6,500.8C908.9,502 904.8,503.4 901.8,502.2C898.8,501 894.9,496.4 892.9,493.4C890.9,490.4 890.5,485.6 890,484"/>
<path d="M920.3,385C922.4,386.5 929.3,391.4 933,393.8C936.7,396.1 939.6,396.5 942.3,399.1C944.9,401.7 946.1,404.1 948.9,409.5C951.7,414.9 956.8,424.1 959.2,431.5C961.7,438.9 961.4,447.5 963.6,453.6C965.8,459.8 970,463.5 972.5,468.4C975,473.3 976.4,477 978.4,483.1C980.4,489.2 982.8,501.5 984.2,505.2C985.7,508.9 986.5,505.4 987,505.5"/>
<path d="M123.8,482.2C124.6,480.2 127.3,479.1 130,481C132.7,482.9 139.4,490.2 140,493.5C140.6,496.8 136.2,501 133.8,501C131.2,501 126.7,496.6 125,493.5C123.3,490.4 122.9,484.3 123.8,482.2Z"/>
<path d="M128.8,509.8C130,508.4 134.4,507.4 137.5,508C140.6,508.6 146,511.3 147.5,513.5C149,515.7 147.7,519.2 146.2,521C144.8,522.8 141.5,524.8 138.8,524C136,523.2 131.7,518.4 130,516C128.3,513.6 127.5,511.1 128.8,509.8Z"/>
<path d="M257.5,503.5C258.8,501.8 261.7,499.8 265,501C268.3,502.2 275.6,507.7 277.5,511C279.4,514.3 277.5,519.5 276.2,521C275,522.5 273.1,521.4 270,519.8C266.9,518.1 259.6,513.7 257.5,511C255.4,508.3 256.2,505.2 257.5,503.5Z"/>
<path d="M478.5,517.2C480.4,513.4 485.2,511.1 488.5,511.8C491.8,512.4 496.8,517.8 498.5,521C500.2,524.2 500.6,527.9 498.5,531C496.4,534.1 489.5,539.1 486,539.8C482.5,540.4 478.5,538.5 477.2,534.8C476,531 476.6,521.1 478.5,517.2Z"/>
<path d="M433.5,528.5C436.8,527.7 440.6,535.2 442.2,538.5C443.9,541.8 444.5,545.2 443.5,548.5C442.5,551.8 439.1,557.7 436,558.5C432.9,559.3 427,556 424.8,553.5C422.5,551 420.8,547.7 422.2,543.5C423.7,539.3 430.2,529.3 433.5,528.5Z"/>
<path d="M443.5,548.5C444.3,546.2 452,546 456,547.2C460,548.5 465.6,552.9 467.2,556C468.9,559.1 467.5,563.7 466,566C464.5,568.3 461,570.6 458.5,569.8C456,568.9 453.5,564.5 451,561C448.5,557.5 442.7,550.8 443.5,548.5Z"/>
<path d="M463.5,619.8C466,617.5 471.4,612.5 476,612.2C480.6,612 487.7,614.1 491,618.5C494.3,622.9 498.5,632.2 496,638.5C493.5,644.8 481.4,654.3 476,656C470.6,657.7 466,653.5 463.5,648.5C461,643.5 461,630.8 461,626C461,621.2 461,622 463.5,619.8Z"/>
<path d="M468.5,628.5C469.8,627.5 471.6,626 473.5,627.2C475.4,628.5 479.1,633.5 479.8,636C480.4,638.5 478.7,641 477.2,642.2C475.8,643.5 472.9,645 471,643.5C469.1,642 466.4,635.5 466,633C465.6,630.5 467.2,629.5 468.5,628.5Z"/>
<path d="M286,626.5C288,626.2 291.1,627.6 293,629C294.9,630.4 297.3,632.6 297.5,634.8C297.7,636.9 295.6,641.3 294,642C292.4,642.7 290.2,640.8 288,639C285.8,637.2 281.3,633.1 281,631C280.7,628.9 284,626.8 286,626.5Z"/>
<path d="M542,589.8C540.2,589.9 536.6,588.6 531,590.5C525.4,592.4 512.7,598.4 508.5,601C504.3,603.6 504.8,602.7 506,606C507.2,609.3 513.3,618.7 516,621C518.7,623.3 521.2,620 522.2,619.8"/>
<path d="M618,555C618.6,552.8 619.8,545.1 621.8,542C623.8,538.9 628,539.2 629.8,536.6C631.6,534 630.3,526.1 632.5,526.4C634.7,526.7 637.9,534.4 643.2,538.5C648.6,542.6 658,551 664.5,551C671,551 676.6,542.7 682,538.5C687.4,534.3 693.2,530.2 697,526C700.8,521.8 703,517.5 704.5,513.5C706,509.5 704.5,504.1 705.8,502.2C707,500.4 711,500.4 712,502.2C713,504.1 710.3,510 712,513.5C713.7,517 719.9,518.9 722,523.5C724.1,528.1 726.2,535.2 724.5,541C722.8,546.8 711.6,553.5 712,558.5C712.4,563.5 724.7,566 727,571C729.3,576 723.2,585.2 725.8,588.5C728.2,591.8 737.6,588.9 742,591C746.4,593.1 749.3,598.2 752,601C754.7,603.8 757,606.8 758,608"/>
<path d="M618,555C618,555.2 616.8,553.8 618.2,556C619.8,558.2 624.7,565 627,568.5C629.3,572 631.2,575.6 632,577"/>
<path d="M642,564.8C643.2,565 646.2,562.9 649.5,566C652.8,569.1 657.8,581.2 662,583.5C666.2,585.8 671,579.3 674.5,579.8C678,580.2 681.8,585 683.2,586"/>
<path d="M691,614C691.2,614.3 691.6,610.7 692,616C692.4,621.3 694.1,640.2 693.2,646C692.4,651.8 686.4,649.3 687,651C687.6,652.7 692.8,656.4 697,656C701.2,655.6 710.8,647.3 712,648.5C713.2,649.7 705.8,660.6 704.5,663"/>
<ellipse cx="705.75" cy="574.75" rx="5" ry="6"/>
<path d="M637,663C637.8,658.9 639.9,643.4 642,638.5C644.1,633.6 647.2,632.7 649.5,633.5C651.8,634.3 655.1,638.6 655.8,643.5C656.4,648.4 653.7,659.8 653.2,663"/>
<path d="M719.5,612.2C721.5,612.2 727.8,614.8 728.2,616C728.7,617.2 724,619.8 722,619.8C720,619.8 716.4,617.2 716,616C715.6,614.8 717.5,612.2 719.5,612.2Z"/>
<path d="M779.5,611C779.9,612.7 778.9,617.2 782,621C785.1,624.8 795.3,631.4 798,633.5"/>
<path d="M747,663C748.2,662.5 752.3,659.8 754.5,659.8C756.7,659.8 759.1,662.5 760,663"/>
<path d="M768,548.5C770.5,548.9 778.6,549.5 783,551C787.4,552.5 793.6,554.8 794.2,557.2C794.9,559.8 787.6,563.3 786.8,566C785.9,568.7 788.2,571.8 789.2,573.5C790.3,575.2 792.4,575.6 793,576"/>
<path d="M778,606C778.4,608.1 778,614.8 780.5,618.5C783,622.2 788.4,625.2 793,628.5C797.6,631.8 804.2,635.2 808,638.5C811.8,641.8 815.5,652.2 815.5,648.5C815.5,644.8 811.3,625.6 808,616C804.7,606.4 798,597.7 795.5,591C793,584.3 793.4,578.5 793,576"/>
<path d="M811.8,568.5C814,566.4 822.8,558.5 825.5,556C828.2,553.5 827.6,552.5 828,553.5C828.4,554.5 825.9,559.3 828,562.2C830.1,565.2 837.2,570 840.5,571C843.8,572 846.8,570.8 848,568.5C849.2,566.2 846.1,559.5 848,557.2C849.9,555 857.6,557 859.2,554.8C860.9,552.5 859.9,547.9 858,543.5C856.1,539.1 850.9,532.2 848,528.5C845.1,524.8 841.8,523.9 840.5,521C839.2,518.1 838.6,513.5 840.5,511C842.4,508.5 847.8,506 851.8,506C855.7,506 859.9,508.1 864.2,511C868.6,513.9 874.5,519.8 878,523.5C881.5,527.2 882.2,531 885.5,533.5C888.8,536 895.1,538.5 898,538.5C900.9,538.5 900.1,534.5 903,533.5C905.9,532.5 910.9,531.8 915.5,532.2C920.1,532.7 925.9,532.9 930.5,536C935.1,539.1 938.8,546 943,551C947.2,556 951.3,561.2 955.5,566C959.7,570.8 964.7,573.9 968,579.8C971.3,585.6 974.7,595.4 975.5,601C976.3,606.6 975.1,609.8 973,613.5C970.9,617.2 965.9,620.6 963,623.5C960.1,626.4 957.6,628.1 955.5,631C953.4,633.9 953,640.2 950.5,641C948,641.8 943.4,637.9 940.5,636C937.6,634.1 936.8,630.8 933,629.8C929.2,628.7 921.3,626.2 918,629.8C914.7,633.3 914,645.5 913,651C912,656.5 912,661 911.8,663"/>
<path d="M811.8,568.5C811.5,570.6 809.2,576 810.5,581C811.8,586 816.8,592.2 819.2,598.5C821.8,604.8 823,611.8 825.5,618.5C828,625.2 830.5,632.5 834.2,638.5C838,644.5 844.9,653.5 848,654.8C851.1,656 852.6,651.6 853,646C853.4,640.4 852.2,627.7 850.5,621C848.8,614.3 842.2,612.7 843,606C843.8,599.3 852.2,587.2 855.5,581C858.8,574.8 860.9,570.9 863,568.5C865.1,566.1 865.5,565.7 868,566.5C870.5,567.3 875.7,570.7 878,573.5C880.3,576.3 879.5,576.4 881.8,583.5C884,590.6 892,608.9 891.8,616C891.5,623.1 883.2,622.2 880.5,626C877.8,629.8 876.5,632.3 875.5,638.5C874.5,644.7 874.5,658.9 874.2,663"/>
<path d="M828,598C828.7,598 830,601.2 830,603C830,604.8 828.7,609 828,609C827.3,609 826,604.8 826,603C826,601.2 827.3,598 828,598Z"/>
<path d="M910.5,548.5C910.5,542.9 914.2,541.8 918,542.2C921.8,542.7 927.2,546.2 933,551C938.8,555.8 948,565.6 953,571C958,576.4 960.5,578.1 963,583.5C965.5,588.9 968.4,598.7 968,603.5C967.6,608.3 964.7,612.2 960.5,612.2C956.3,612.2 949.2,607.9 943,603.5C936.8,599.1 927.2,590.6 923,586C918.8,581.4 920.1,582.2 918,576C915.9,569.8 910.5,554.1 910.5,548.5Z"/>
<path d="M933,576C933.8,573.5 938.6,574.3 943,576C947.4,577.7 956.5,581.8 959.2,586C962,590.2 960.7,598.1 959.2,601C957.8,603.9 954,605.2 950.5,603.5C947,601.8 940.9,595.6 938,591C935.1,586.4 932.2,578.5 933,576Z"/>
<path d="M925.5,555C926.2,555 927.5,558.7 927.5,560C927.5,561.3 926.2,563 925.5,563C924.8,563 923.5,561.3 923.5,560C923.5,558.7 924.8,555 925.5,555Z"/>
<path d="M789.2,663C790.3,661.8 792.8,656 795.5,656C798.2,656 803.8,661.8 805.5,663"/>
<ellipse cx="799.8" cy="289.2" rx="0.8" ry="0.8"/>
<polyline points="635,161 639,161"/>
<path d="M851.3,411.7C850.3,411.2 848.4,409.5 845.5,408.8C842.6,408 837.7,406.6 833.8,407C829.8,407.4 825.9,408.1 822,411.1C818.1,414.1 813.8,420.9 810.3,425.2C806.8,429.5 802.9,433.4 801,436.9C799.1,440.3 800.1,442.6 799.2,445.9C798.3,449.2 797.7,454.2 795.8,456.6C793.9,459 792.4,457.7 788,460.5C783.6,463.3 773.3,470.4 769.4,473.2C765.5,476 766.1,474.5 764.5,477.1C762.9,479.7 760.4,485.4 759.6,489C758.8,492.6 758.8,493.4 759.6,498.6C760.4,503.8 763.2,515.6 764.5,520C765.8,524.4 767.1,523 767.3,525.2C767.5,527.4 767.9,531.5 765.8,533.1C763.7,534.7 757.1,533.1 754.7,534.7C752.3,536.3 751.3,539.7 751.6,542.6C751.9,545.5 753.9,551.1 756.3,552.1C758.7,553.1 761.1,548.9 765.8,548.9C770.5,548.9 780,550.9 784.7,552.1C789.4,553.3 793.7,553.9 794.2,556C794.7,558.1 789.2,562.2 787.9,564.7C786.6,567.2 785.5,568.9 786.3,571C787.1,573.1 790.2,574.1 792.6,577.3C795,580.5 798.4,582.9 800.5,590C802.6,597.1 804.4,615 805.2,620"/>
<path d="M811.5,440.4C813.3,436.8 819.1,432.3 822,429.8C824.9,427.3 827.7,426.6 829.1,425.2C830.5,423.8 829.6,422 830.2,421.1C830.8,420.2 832.1,419.6 832.6,419.9C833.1,420.2 833.8,421.3 833.2,422.8C832.6,424.3 830.2,425.6 829.1,428.7C828,431.8 826.1,438.7 826.7,441.6C827.3,444.5 831,445.1 832.6,446.2C834.2,447.4 835.2,448.3 836.1,448.6C837,448.9 837.2,447.1 837.8,447.8C838.4,448.5 839.9,450.9 839.7,452.7C839.5,454.5 837.9,455 836.8,458.6C835.7,462.2 832.1,469.5 832.9,474.2C833.7,478.9 842.2,483.6 841.7,486.9C841.2,490.1 833.9,491.6 830,493.7C826.1,495.8 821.3,497.5 818.2,499.6C815.1,501.7 813.6,504 811.4,506.4C809.2,508.8 806.5,511.3 805.2,514.2C803.9,517.1 804.7,521.2 803.6,523.7C802.5,526.2 801,529 798.9,529.2C796.8,529.5 793.4,528 791,525.2C788.6,522.4 787.5,516.1 784.7,512.6C781.9,509.2 776.7,507.5 774.3,504.5C771.9,501.5 771.1,498.3 770.4,494.7C769.7,491.1 769.4,485.6 769.9,483C770.4,480.4 771.6,480 773.3,479C775,478 777.1,479.1 780.2,477.1C783.3,475.2 788,469.6 791.9,467.3C795.8,465 800.4,466 803.6,463.4C806.9,460.8 810.1,455.5 811.4,451.7C812.7,447.9 809.7,444 811.5,440.4Z"/>
<path d="M776.2,484C776.7,483.2 776.6,482.5 778.2,482C779.8,481.5 784,482.5 786,481C788,479.5 788.8,474.8 790.4,473.2C792,471.6 793.6,471.8 795.8,471.7C798,471.6 801.6,471.8 803.6,472.7C805.6,473.6 807.5,472.8 807.5,477.1C807.5,481.4 805.8,492.9 803.6,498.6C801.4,504.3 796.9,510.3 794.3,511.3C791.7,512.3 790.7,506.8 788,504.5C785.3,502.2 780.3,500.5 778.2,497.6C776.1,494.7 775.6,489.2 775.3,486.9C775,484.6 775.8,484.8 776.2,484Z"/>
<path d="M784.5,490.3C784.3,487.4 791.6,480.2 793.8,478.1C796,476 796.6,477.1 797.7,477.6C798.9,478.1 800.4,478.8 800.7,481C801,483.2 800.6,488.4 799.7,490.8C798.8,493.2 797.8,495.8 795.3,495.7C792.8,495.6 784.8,493.2 784.5,490.3Z"/>
<path d="M759.6,440C758.6,442.1 755.9,449.4 753.8,452.7C751.7,455.9 748.6,458.8 747,459.5C745.4,460.2 744.5,457.4 744,457"/>
<path d="M747.6,390C748.1,392.9 750.2,401.2 750.5,407.6C750.8,414.1 750.4,421.6 749.4,428.7C748.4,435.8 745.5,446.4 744.7,450"/>
</g>
<g stroke="#4c4c4c" stroke-width="1">
<polyline points="83.75,120 81.25,184.25 77,240 74.5,290 70,346.25"/>
<polyline points="81.25,184.25 210.5,190 286,193 407.25,198 542,203 588.25,204.5 590.75,207 708.25,209.5 709,205.5 775.75,206.25 910.5,209.5"/>
<polyline points="225,120 218,150 211.25,176.25 210.5,190 211.75,238 221.25,241.25 240,257.5 248.75,276.25 258.75,292 286,298.75 309.75,300.5 363.5,310 379.75,310.5 386,313 401,314.5 416,314.5 428.5,318.75 473.5,387.5 491,403.75 499.75,406.25 522.25,401.25 542,382.5 552,376.25 583.25,370.5 602,367 622,366.25 638.25,358.75 650.75,355.5 660.75,355.5 682,345 724.5,326.25 737,322 754.5,322"/>
<polyline points="248.75,276.25 243.75,290 241.25,300 237.5,332.5 226.25,362.5 226.25,390 220.5,409"/>
<polyline points="410.25,120 407.25,198"/>
<polyline points="588.25,120 597,127.5 606.5,131.25 644.5,161.25 677,210 717,245 737,267.5 752,293.75 759.5,293.75"/>
<polyline points="607.5,120 606.5,131.25"/>
<polyline points="713.25,120 732,145 749.5,161.25 759.5,175 772,187.5 774.5,192.5 775.75,206.25 777,220 772,240 764.5,247.5 760.75,260 759.5,293.75 755.75,297.5 758.25,310 758.25,317.5 755.75,340 753.25,355 754.5,397.5 754.5,427.5 747,452.5 737,470 732,476 729.5,488.5 733.25,536 744.5,551 749.5,568.5 757,574.75 759.5,593.5 765.75,603.5 762,612.25"/>
<polyline points="774.5,192.5 783,182.5 803,173.75 828,170 835.5,165 854.25,153.75 859.25,140 855.5,120"/>
<polyline points="913.75,120 912.5,209.5 909.25,240 910,290 908,398.75 906.75,476 906,504.75 904.25,506 901.75,614.75"/>
<polyline points="909.25,240.5 987,240.5"/>
<polyline points="758.25,317.5 768,322.5 783,335 785.5,340 841.75,383.75 861.75,386.25 908,398.75 942.3,399.1 948.9,395.5 953.3,394 957.7,396.2 962.2,399.1 966.6,399.1 978.4,394 987,391.8"/>
<polyline points="763.25,308 777,318"/>
<polyline points="841.75,383.75 850.5,412.5 843,431.25 835.5,442.5 834.25,448.75 840.5,460 848,476 849.25,496"/>
<polyline points="941.75,399.25 942.3,438.9 938.6,447.75 938.6,502.2 942.3,511 943,513.5 949.25,534.75 965.5,535.5 964.25,576 969.25,582.25 970.5,593.5 975.5,599.75 987,600.25"/>
<polyline points="959,397.5 958.5,409.5 968.1,419 979.1,419.8 979.8,428.6 987,442.5"/>
<polyline points="697,476.3 745,477.1 788,478.3 790.4,474.2 848,474.3 906.75,475.5"/>
<polyline points="697,476 694.5,541 635.75,542.25 634.5,577.25"/>
<polyline points="660.75,355.5 637,395 634.5,432.5 620.75,441.25 607,470 605.75,480 606.5,493.5 590.75,523.5 587,557"/>
<polyline points="763,612.25 768,607.25 774.5,601 783,593.5 793,578.5 800.5,561 808,551 824.25,539.75 829.25,526 833,503.5 849.25,496"/>
<polyline points="849.25,496 863,497.25 866.75,517.25 876.75,523.5 879.25,536 893,543.5 898,563.5 905.5,570.5"/>
<polyline points="849.25,496 873,486 893,481 903,482.25 920.5,492.25 948,492.25 968,486 987,482.25"/>
<polyline points="965.5,540.5 987,541.5"/>
<polyline points="755.75,612 759.5,603.5 765.75,603.5"/>
</g>
<g stroke="#000" stroke-width="1.6">
<polyline points="38,333 286,437 378.5,476 542,542.25 719.5,612.25 768,612.25 901.75,614.75 987,616.5"/>
<polyline points="38,604.75 52.5,612.25 82.5,622.25 100,629 115,638.5 129.5,648 131.25,663"/>
</g>
<g fill="#7a7a7a" stroke="none" font-family="Liberation Sans, sans-serif" font-size="11.2" text-anchor="middle" dominant-baseline="central">
<text x="92" y="222" transform="rotate(77 92 222)">1000</text>
<text x="185" y="505" transform="rotate(56 185 505)">1000</text>
<text x="299.75" y="532.25" transform="rotate(0 299.75 532.25)">2000</text>
<text x="671" y="141" transform="rotate(90 671 141)">2000</text>
<text x="736" y="141" transform="rotate(-90 736 141)">3000</text>
<text x="889" y="207" transform="rotate(70 889 207)">3000</text>
<text x="800.5" y="214" transform="rotate(-70 800.5 214)">4000</text>
<text x="969.2" y="327" transform="rotate(-90 969.2 327)">4000</text>
<text x="771.1" y="428.1" transform="rotate(-52 771.1 428.1)">3000</text>
<text x="533" y="611" transform="rotate(-45 533 611)">3000</text>
<text x="570.75" y="638.5" transform="rotate(90 570.75 638.5)">3000</text>
<text x="687.5" y="601" transform="rotate(80 687.5 601)">4000</text>
</g></g></svg>
<!--/MAPSVG-->
</body></html>
